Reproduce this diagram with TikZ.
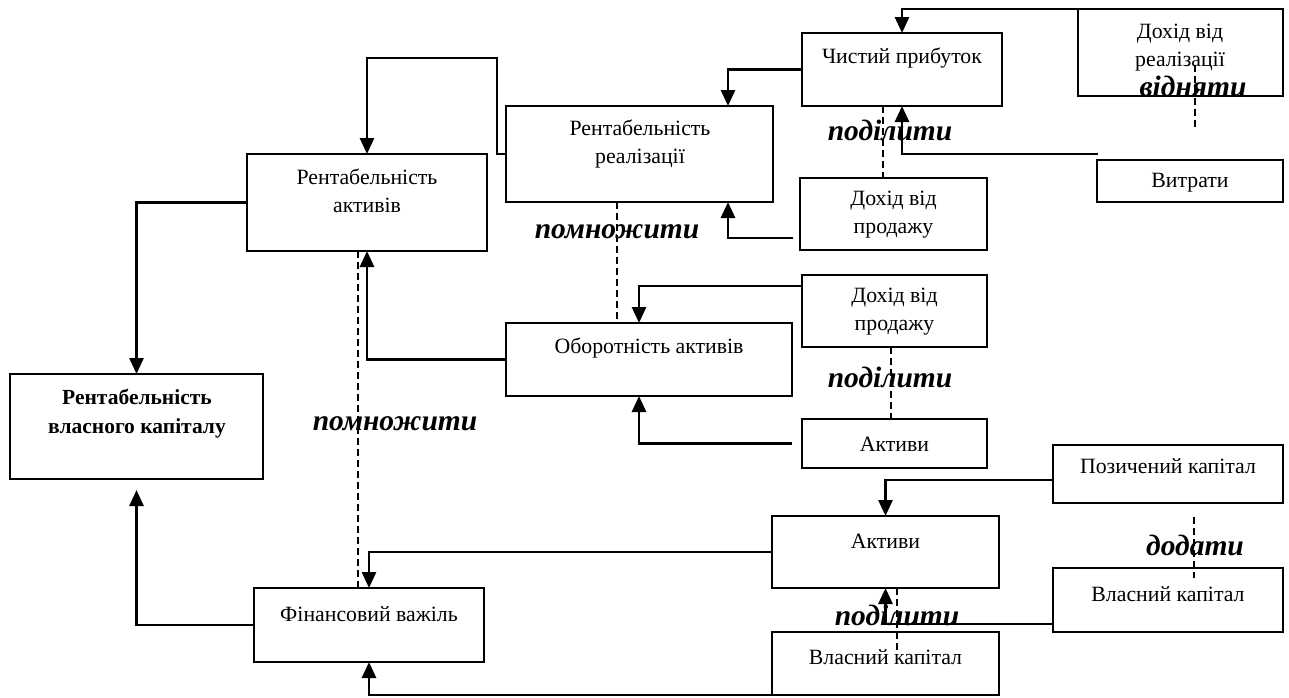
\documentclass[tikz,border=0pt]{standalone}
\usepackage{fontspec}
\setmainfont{Liberation Serif}
\usetikzlibrary{arrows.meta,calc}
\tikzset{
  box/.style={draw, line width=1.8pt, rectangle, inner sep=0pt, outer sep=0pt},
  txt/.style={font=\fontsize{21.8}{28}\selectfont, align=center, inner sep=0pt},
  btxt/.style={font=\fontsize{21.5}{29}\selectfont\bfseries, align=center, inner sep=0pt},
  op/.style={font=\fontsize{29.5}{31}\selectfont\bfseries\itshape, inner sep=0pt},
  arr/.style={line width=2.8pt, -{Triangle[length=16pt,width=14pt]}},
  dsh/.style={line width=1.7pt, dash pattern=on 7pt off 4pt},
}
\begin{document}
\begin{tikzpicture}[x=1pt,y=-1pt]
\useasboundingbox (0,0) rectangle (1289,697);
% boxes
\node[box, minimum width=200pt, minimum height=73pt] (cp) at (902,69.5) {};
\node[box, minimum width=205pt, minimum height=87pt] (dr) at (1180.5,52.5) {};
\node[box, minimum width=186pt, minimum height=42pt] (vyt) at (1190,181) {};
\node[box, minimum width=267pt, minimum height=96pt] (rr) at (639.5,154) {};
\node[box, minimum width=187pt, minimum height=72pt] (dp1) at (893.5,214) {};
\node[box, minimum width=240pt, minimum height=97pt] (ra) at (367,202.5) {};
\node[box, minimum width=253pt, minimum height=105pt] (rvk) at (136.5,426.5) {};
\node[box, minimum width=230pt, minimum height=74pt] (fv) at (369,625) {};
\node[box, minimum width=286pt, minimum height=73pt] (oa) at (649,359.5) {};
\node[box, minimum width=185pt, minimum height=72pt] (dp2) at (894.5,311) {};
\node[box, minimum width=185pt, minimum height=49pt] (ak1) at (894.5,443.5) {};
\node[box, minimum width=230pt, minimum height=58pt] (pk) at (1168,474) {};
\node[box, minimum width=227pt, minimum height=72pt] (ak2) at (885.5,552) {};
\node[box, minimum width=230pt, minimum height=64pt] (vk1) at (1168,600) {};
\node[box, minimum width=227pt, minimum height=63pt] (vk2) at (885.5,663.5) {};
% texts
\node[txt] (tcp) at (902,58) {Чистий прибуток};
\node[txt] (tdr) at (1180,48) {Дохід від\\реалізації};
\node[txt] (tvyt) at (1190,183) {Витрати};
\node[txt] (trr) at (640,144) {Рентабельність\\реалізації};
\node[txt] (tdp1) at (893.5,215) {Дохід від\\продажу};
\node[txt] (tra) at (367,191) {Рентабельність\\активів};
\node[btxt] (trvk) at (137,414) {Рентабельність\\власного капіталу};
\node[txt] (tfv) at (369,614) {Фінансовий важіль};
\node[txt] (toa) at (649,348) {Оборотність активів};
\node[txt] (tdp2) at (894.5,312) {Дохід від\\продажу};
\node[txt] (tak1) at (894.5,444) {Активи};
\node[txt] (tpk) at (1168,466) {Позичений капітал};
\node[txt] (tak2) at (885.5,541) {Активи};
\node[txt] (tvk1) at (1168,594) {Власний капітал};
\node[txt] (tvk2) at (885.5,657) {Власний капітал};
% operation labels
\node[op] (o1) at (1193,86) {відняти};
\node[op] (o2) at (890,130) {поділити};
\node[op] (o3) at (617,232) {помножити};
\node[op] (o4) at (890,377) {поділити};
\node[op] (o5) at (395,424) {помножити};
\node[op] (o6) at (1195,545) {додати};
\node[op] (o7) at (897,615) {поділити};
% helper coordinates
\coordinate (v1) at (1098,154);
\coordinate (d1) at (793,238);
\coordinate (k1) at (497,58);
% connectors
\draw[arr] (dr.north west) -| (cp.north);
\draw[arr] (v1) -| (cp.south);
\draw[arr] (cp.west) -| ($(rr.north)+(88.5,0)$);
\draw[arr] (d1) -| ($(rr.south)+(88.5,0)$);
\draw[arr] (rr.west) -| (k1) -| (ra.north);
\draw[arr] (ra.west) -| (rvk.north);
\draw[arr] (fv.west) -| ($(rvk.south)+(0,11)$);
\draw[arr] (oa.west) -| (ra.south);
\draw[arr] ($(dp2.north west)+(0,11)$) -| ($(oa.north)+(-10,0)$);
\draw[arr] ($(ak1.west)+(-10,0)$) -| ($(oa.south)+(-10,0)$);
\draw[arr] ($(pk.west)+(0,6)$) -| (ak2.north);
\draw[arr] ($(vk1.west)+(0,24)$) -| (ak2.south);
\draw[arr] (ak2.west) -| (fv.north);
\draw[arr] (vk2.south west) -| (fv.south);
% dashed links
\draw[dsh] ($(dr.center)+(14.5,12)$) -- ($(dr.south)+(14.5,32)$);
\draw[dsh] ($(cp.south)+(-19,0)$) -- ($(dp1.north)+(-10.5,0)$);
\draw[dsh] ($(rr.south)+(-22.5,0)$) -- ($(oa.north)+(-32,0)$);
\draw[dsh] ($(dp2.south)+(-3.5,0)$) -- ($(ak1.north)+(-3.5,0)$);
\draw[dsh] ($(ra.south)+(-9,0)$) -- ($(fv.north)+(-11,0)$);
\draw[dsh] ($(pk.south)+(26,14)$) -- ($(vk1.north)+(26,10)$);
\draw[dsh] ($(ak2.south)+(11.5,0)$) -- ($(ak2.south)+(11.5,65)$);
\end{tikzpicture}
\end{document}
